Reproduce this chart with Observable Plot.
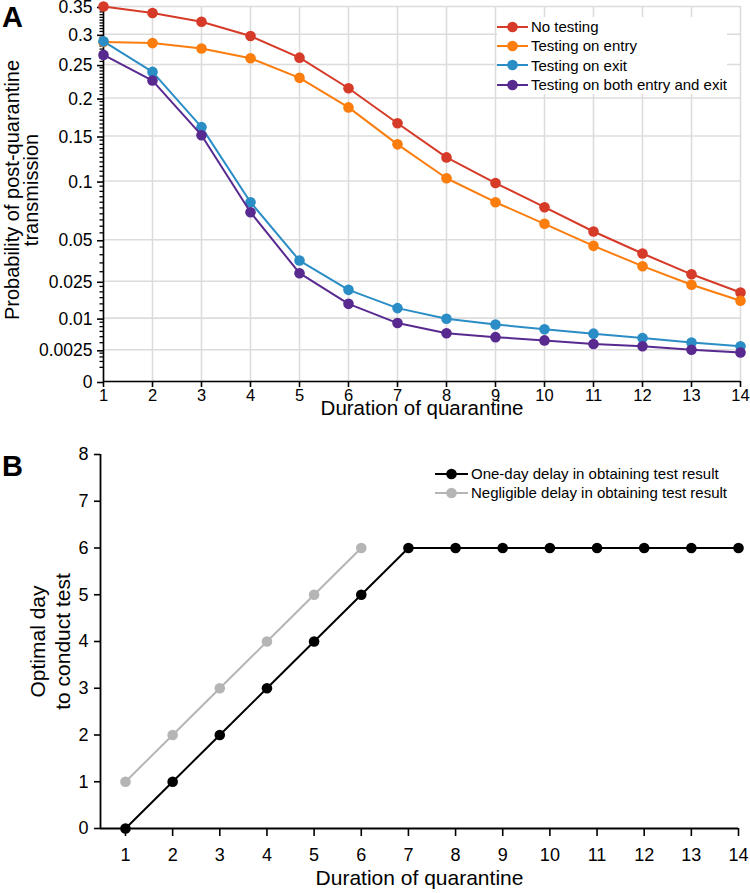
<!DOCTYPE html>
<html><head><meta charset="utf-8">
<script src="https://cdn.jsdelivr.net/npm/d3@7"></script>
<script src="https://cdn.jsdelivr.net/npm/@observablehq/plot@0.6"></script>
<style>
body{margin:0;background:#fff;font-family:"Liberation Sans",Arial,sans-serif;}
#wrap{position:relative;width:750px;height:893px;overflow:hidden;}
.panel{position:absolute;left:0;}
.plabel{position:absolute;left:2px;font-weight:bold;font-size:29px;line-height:1;}
.legend{position:absolute;background:#fff;font-size:15px;}
.legend .row{display:flex;align-items:center;height:19.3px;white-space:nowrap;}
.legend svg{margin-right:3px;}
</style></head><body><div id="wrap"></div>
<script>
// ---------- data ----------
const days = [1,2,3,4,5,6,7,8,9,10,11,12,13,14];
const seriesNames = ["No testing","Testing on entry","Testing on exit","Testing on both entry and exit"];
const seriesColors = ["#d63a28","#fb7d0d","#2b8dc5","#58298f"];
const noTesting    = [0.350,0.338,0.322,0.297,0.261,0.214,0.166,0.125,0.098,0.0756,0.056,0.0408,0.0286,0.0197];
const testingEntry = [0.287,0.285,0.276,0.260,0.2295,0.187,0.140,0.1028,0.080,0.0619,0.0458,0.0331,0.0233,0.0162];
const testingExit  = [0.288,0.2386,0.161,0.080,0.0364,0.0209,0.0134,0.0098,0.0081,0.0068,0.0057,0.0047,0.0038,0.0031];
const testingBoth  = [0.2655,0.2254,0.151,0.0713,0.0292,0.0150,0.0085,0.0058,0.0049,0.0042,0.0035,0.0031,0.0025,0.0021];
const probTicks = [0,0.0025,0.01,0.025,0.05,0.1,0.15,0.2,0.25,0.3,0.35];
const minorTicks = [0.0005,0.001,0.0015,0.002,0.00375,0.005,0.00625,0.0075,0.00875,
  0.0125,0.015,0.0175,0.02,0.0225,0.03,0.035,0.04,0.045,
  0.055,0.06,0.065,0.07,0.075,0.08,0.085,0.09,0.095,0.105,0.11,0.115,0.12,0.125,0.13,0.135,0.14,0.145,
  0.155,0.16,0.165,0.17,0.175,0.18,0.185,0.19,0.195,0.205,0.21,0.215,0.22,0.225,0.23,0.235,0.24,0.245,
  0.255,0.26,0.265,0.27,0.275,0.28,0.285,0.29,0.295,0.305,0.31,0.315,0.32,0.325,0.33,0.335,0.34,0.345];

const bNames = ["One-day delay in obtaining test result","Negligible delay in obtaining test result"];
const bColors = ["#000000","#b5b5b5"];
const oneDayDelay = [0,1,2,3,4,5,6,6,6,6,6,6,6,6];
const negligibleDays = [1,2,3,4,5,6];
const negligibleDelay = [1,2,3,4,5,6];
const bTicks = [0,1,2,3,4,5,6,7,8];
const bXStart = 0.47;

// ---------- tables ----------
const aSeries = [noTesting,testingEntry,testingExit,testingBoth];
const font = "Liberation Sans, Arial, sans-serif";
const wrap = document.getElementById("wrap");

const aMarks = [
  Plot.gridX(days,{stroke:"#dcdcdc",strokeOpacity:1,strokeWidth:1.6}),
  Plot.gridY(probTicks,{stroke:"#dcdcdc",strokeOpacity:1,strokeWidth:1.6}),
  Plot.ruleY([0],{stroke:"#000",strokeWidth:1.6}),
  Plot.ruleX([1],{stroke:"#000",strokeWidth:1.6}),
  Plot.axisY(minorTicks,{tickSize:3.5,tickFormat:()=>"",label:null,strokeWidth:1.3}),
  Plot.axisY(probTicks,{tickSize:6,tickPadding:5,tickFormat:d=>String(d),fontSize:17.5,dy:1,label:null,strokeWidth:1.6}),
  Plot.axisX(days,{tickSize:6,tickPadding:1.5,fontSize:16.5,label:null,strokeWidth:1.6}),
];
aSeries.forEach((vals,i)=>{
  const rows = days.map((d,j)=>({day:d,value:vals[j],series:seriesNames[i]}));
  aMarks.push(Plot.line(rows,{x:"day",y:"value",stroke:seriesColors[i],strokeWidth:2}));
  aMarks.push(Plot.dot(rows,{x:"day",y:"value",fill:seriesColors[i],r:5.3}));
});
aMarks.push(Plot.text(["Duration of quarantine"],{text:d=>d,frameAnchor:"bottom",dy:33,fontSize:20.5}));
aMarks.push(Plot.text(["Probability of post-quarantine\ntransmission"],{text:d=>d,frameAnchor:"left",textAnchor:"middle",rotate:-90,dx:-81,dy:-4,fontSize:20,lineHeight:0.97}));

const A = Plot.plot({
  width:750,height:425,marginLeft:103,marginRight:10,marginTop:6,marginBottom:44,
  style:{fontFamily:font,color:"#000",background:"transparent",overflow:"visible"},
  x:{domain:[1,14]},
  y:{type:"sqrt",domain:[0,0.35]},
  marks:aMarks
});
const divA = document.createElement("div"); divA.className="panel"; divA.style.top="0px";
divA.appendChild(A); wrap.appendChild(divA);

const bOne = days.map((d,j)=>({day:d,value:oneDayDelay[j]}));
const bNeg = negligibleDays.map((d,j)=>({day:d,value:negligibleDelay[j]}));
const B = Plot.plot({
  width:750,height:468,marginLeft:100,marginRight:12,marginTop:29,marginBottom:65,
  style:{fontFamily:font,color:"#000",background:"transparent",overflow:"visible"},
  x:{domain:[bXStart,14]},
  y:{domain:[0,8]},
  marks:[
    Plot.ruleY([0],{stroke:"#000",strokeWidth:1.8}),
    Plot.ruleX([bXStart],{stroke:"#000",strokeWidth:1.8}),
    Plot.axisX(days,{tickSize:8,tickPadding:12,fontSize:18,label:null,strokeWidth:1.6}),
    Plot.axisY(bTicks,{tickSize:6,tickPadding:6,fontSize:18,label:null,strokeWidth:1.6}),
    Plot.line(bNeg,{x:"day",y:"value",stroke:bColors[1],strokeWidth:2}),
    Plot.dot(bNeg,{x:"day",y:"value",fill:bColors[1],r:5.3}),
    Plot.line(bOne,{x:"day",y:"value",stroke:bColors[0],strokeWidth:2}),
    Plot.dot(bOne,{x:"day",y:"value",fill:bColors[0],r:5.3}),
    Plot.text(["Duration of quarantine"],{text:d=>d,frameAnchor:"bottom",dy:56,fontSize:21}),
    Plot.text(["Optimal day\nto conduct test"],{text:d=>d,frameAnchor:"left",textAnchor:"middle",rotate:-90,dx:-51,fontSize:21,lineHeight:1.2}),
  ]
});
const divB = document.createElement("div"); divB.className="panel"; divB.style.top="425px";
divB.appendChild(B); wrap.appendChild(divB);

// ---------- panel letters ----------
[["A",3],["B",452]].forEach(([t,y])=>{
  const d=document.createElement("div"); d.className="plabel"; d.style.top=y+"px"; d.textContent=t; wrap.appendChild(d);
});

// ---------- legends ----------
function legend(names,colors,left,top,lineW){
  const lg=document.createElement("div"); lg.className="legend";
  lg.style.left=left+"px"; lg.style.top=top+"px";
  names.forEach((n,i)=>{
    const row=document.createElement("div"); row.className="row";
    row.innerHTML=`<svg width="${lineW}" height="12"><line x1="0" x2="${lineW}" y1="6" y2="6" stroke="${colors[i]}" stroke-width="2"/><circle cx="${lineW/2}" cy="6" r="5.3" fill="${colors[i]}"/></svg><span>${n}</span>`;
    lg.appendChild(row);
  });
  wrap.appendChild(lg);
}
legend(seriesNames,seriesColors,497,17,31);
legend(bNames,bColors,435,464,33);
</script></body></html>
